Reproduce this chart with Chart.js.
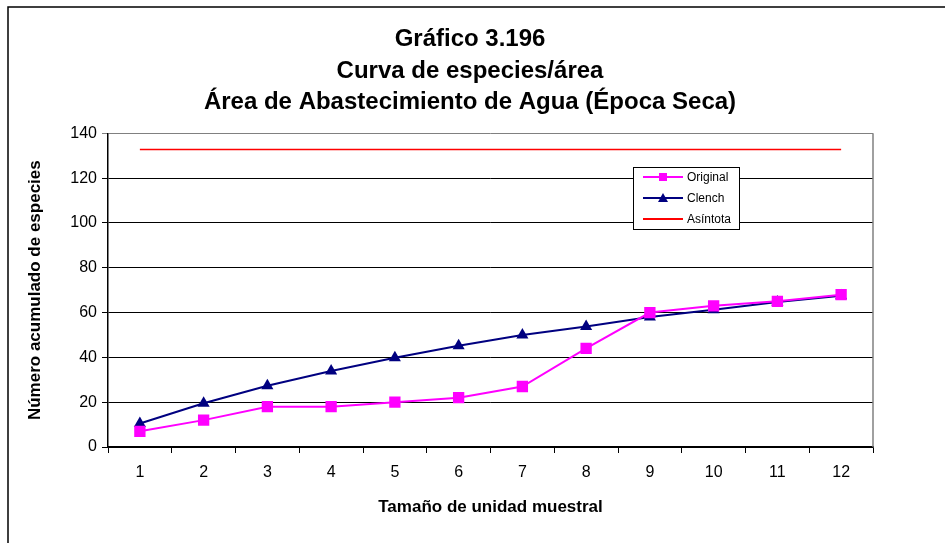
<!DOCTYPE html>
<html>
<head>
<meta charset="utf-8">
<script src="https://cdn.jsdelivr.net/npm/chart.js@4/dist/chart.umd.min.js"></script>
<style>
  html, body { margin: 0; padding: 0; background: #fff; }
  #wrap { width: 945px; height: 543px; }
</style>
</head>
<body>
<div id="wrap"><canvas id="curva"></canvas></div>
<script>
const units = ['1', '2', '3', '4', '5', '6', '7', '8', '9', '10', '11', '12'];
const original = [7, 12, 18, 18, 20, 22, 27, 44, 60, 63, 65, 68];
const clench = [10.5, 19.5, 27.3, 33.9, 39.8, 45.2, 50, 53.8, 58, 61.3, 64.7, 67.5];
const asintota = [132.8, 132.8, 132.8, 132.8, 132.8, 132.8, 132.8, 132.8, 132.8, 132.8, 132.8, 132.8];
const titleLines = ['Gráfico 3.196', 'Curva de especies/área', 'Área de Abastecimiento de Agua (Época Seca)'];

const fontFam = '"Liberation Sans", Arial, sans-serif';

// white background + outer frame like the excel chart
const framePlugin = {
  id: 'frame',
  beforeDraw(chart) {
    const ctx = chart.ctx;
    ctx.save();
    ctx.fillStyle = '#fff';
    ctx.fillRect(0, 0, chart.width, chart.height);
    ctx.strokeStyle = '#000';
    ctx.lineWidth = 1.5;
    ctx.strokeRect(8, 7, chart.width + 10, chart.height + 10);
    ctx.restore();
  },
  beforeDatasetsDraw(chart) {
    // gray right border of plot area
    const a = chart.chartArea;
    const ctx = chart.ctx;
    ctx.save();
    ctx.strokeStyle = '#808080';
    ctx.lineWidth = 1.5;
    ctx.beginPath();
    ctx.moveTo(a.right, a.top);
    ctx.lineTo(a.right, a.bottom);
    ctx.stroke();
    ctx.restore();
  }
};

// legend box sitting inside the plot area
const boxLegend = {
  id: 'boxLegend',
  afterDraw(chart) {
    const ctx = chart.ctx;
    const x = 633, y = 167, w = 106, h = 62;
    ctx.save();
    ctx.fillStyle = '#fff';
    ctx.fillRect(x, y, w, h);
    ctx.strokeStyle = '#000';
    ctx.lineWidth = 1;
    ctx.strokeRect(x + 0.5, y + 0.5, w, h);
    ctx.font = '12px ' + fontFam;
    ctx.textBaseline = 'middle';
    chart.data.datasets.forEach((ds, i) => {
      const ry = 177 + i * 21;
      ctx.strokeStyle = ds.borderColor;
      ctx.lineWidth = 2;
      ctx.beginPath();
      ctx.moveTo(643, ry);
      ctx.lineTo(683, ry);
      ctx.stroke();
      ctx.fillStyle = ds.borderColor;
      if (ds.pointStyle === 'rect') {
        ctx.fillRect(659, ry - 4, 8, 8);
      } else if (ds.pointStyle === 'triangle') {
        ctx.beginPath();
        ctx.moveTo(663, ry - 5);
        ctx.lineTo(668, ry + 4);
        ctx.lineTo(658, ry + 4);
        ctx.closePath();
        ctx.fill();
      }
      ctx.fillStyle = '#000';
      ctx.fillText(ds.label, 687, ry + 1);
    });
    ctx.restore();
  }
};

const curvaChart = new Chart(document.querySelector('#curva'), {
  type: 'line',
  data: {
    labels: units,
    datasets: [{
      label: 'Original',
      data: original,
      borderColor: '#FF00FF',
      backgroundColor: '#FF00FF',
      borderWidth: 2,
      pointStyle: 'rect',
      pointRadius: 8,
      pointBorderWidth: 0,
      tension: 0
    }, {
      label: 'Clench',
      data: clench,
      borderColor: '#000080',
      backgroundColor: '#000080',
      borderWidth: 2,
      pointStyle: 'triangle',
      pointRadius: 7,
      pointBorderWidth: 0,
      tension: 0
    }, {
      label: 'Asíntota',
      data: asintota,
      borderColor: '#FF0000',
      backgroundColor: '#FF0000',
      borderWidth: 1.5,
      pointRadius: 0,
      tension: 0
    }]
  },
  options: {
    responsive: true,
    maintainAspectRatio: false,
    animation: false,
    layout: { padding: { left: 8, top: 0, right: 13, bottom: 18 } },
    plugins: {
      legend: { display: false },
      tooltip: { enabled: false },
      title: {
        display: true,
        text: titleLines,
        color: '#000',
        font: { family: fontFam, size: 24, weight: 'bold', lineHeight: 1.31 },
        padding: { top: 24, bottom: 15 }
      }
    },
    scales: {
      x: {
        offset: true,
        grid: { offset: true, drawOnChartArea: false, drawTicks: true, tickLength: 6, color: '#000' },
        border: { color: '#000', width: 1.5 },
        ticks: { color: '#000', font: { family: fontFam, size: 16 }, padding: 10 },
        title: {
          display: true,
          text: 'Tamaño de unidad muestral',
          color: '#000',
          font: { family: fontFam, size: 17, weight: 'bold' },
          padding: { top: 0, bottom: 7 }
        },
        afterFit(scale) { scale.height = 78; }
      },
      y: {
        min: 0,
        max: 140,
        ticks: { stepSize: 20, color: '#000', font: { family: fontFam, size: 16 }, padding: 5 },
        grid: {
          tickLength: 6,
          color: ctx => (ctx.tick && ctx.tick.value === 140 ? '#808080' : '#000')
        },
        border: { color: '#000', width: 1.5 },
        title: {
          display: true,
          text: 'Número acumulado de especies',
          color: '#000',
          font: { family: fontFam, size: 17, weight: 'bold' },
          padding: { top: 17, bottom: 0 }
        },
        afterFit(scale) { scale.width = 100; }
      },
      // empty right-side spacer so the title centres like the original
      yRight: {
        position: 'right',
        display: true,
        grid: { drawOnChartArea: false, drawTicks: false },
        border: { display: false },
        ticks: { display: false },
        afterFit(scale) { scale.width = 59; }
      }
    }
  },
  plugins: [framePlugin, boxLegend]
});
</script>
</body>
</html>
